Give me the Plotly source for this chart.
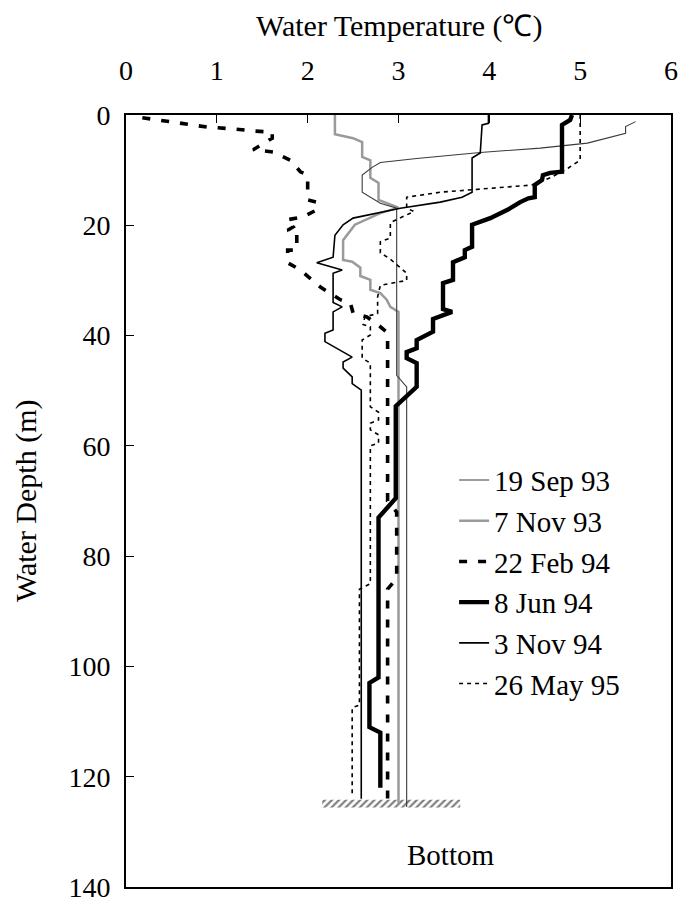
import plotly.graph_objects as go

# ---------------- data ----------------
temp_ticks = [0, 1, 2, 3, 4, 5, 6]
depth_ticks = [0, 20, 40, 60, 80, 100, 120, 140]

series_names = ["19 Sep 93", "7 Nov 93", "22 Feb 94", "8 Jun 94", "3 Nov 94", "26 May 95"]

sep93_T = [5.61, 5.50, 5.50, 5.08, 4.56, 3.90, 3.20, 2.80, 2.71, 2.60, 2.60, 2.80, 2.98, 2.98, 3.09, 3.09]
sep93_D = [1.2, 2.1, 3.3, 5.1, 6.0, 6.8, 7.9, 8.6, 9.5, 10.9, 14.0, 16.0, 16.9, 47.2, 49.3, 125.5]

nov93_T = [2.30, 2.30, 2.50, 2.60, 2.60, 2.69, 2.69, 2.78, 2.78, 3.00, 2.80, 2.52, 2.39, 2.39, 2.49,
           2.58, 2.58, 2.69, 2.69, 2.80, 2.87, 2.91, 3.00, 3.00]
nov93_D = [0.0, 3.5, 4.2, 4.9, 7.6, 8.2, 11.4, 12.3, 15.4, 16.8, 17.8, 19.9, 22.7, 26.3, 26.6,
           27.7, 29.2, 29.9, 31.7, 32.3, 33.5, 34.8, 35.7, 124.8]

feb94_T = [0.18, 0.67, 0.90, 1.17, 1.40, 1.61, 1.61, 1.40, 1.62, 1.81, 1.92, 2.00, 2.00, 2.10, 2.10,
           1.95, 1.77, 1.84, 1.78, 1.88, 1.88, 1.78, 1.78, 1.92, 2.14, 2.36, 2.47, 2.50, 2.65, 2.80,
           2.88, 2.88, 2.98, 2.98, 2.88, 2.88]
feb94_D = [0.5, 1.6, 2.2, 2.5, 2.9, 3.1, 4.2, 6.3, 6.7, 8.2, 10.3, 10.9, 15.4, 15.8, 17.2,
           18.5, 19.0, 20.3, 20.9, 21.4, 24.5, 24.5, 26.8, 28.1, 31.2, 33.5, 34.1, 35.9, 36.6, 38.4,
           39.5, 70.0, 72.0, 84.0, 86.0, 124.0]

jun94_T = [4.91, 4.89, 4.80, 4.80, 4.67, 4.59, 4.58, 4.50, 4.50, 4.43, 4.34, 4.20, 4.01, 3.81, 3.81,
           3.73, 3.73, 3.60, 3.60, 3.49, 3.49, 3.59, 3.38, 3.38, 3.20, 3.20, 3.09, 3.09, 3.20, 3.20,
           2.97, 2.97, 2.78, 2.78, 2.68, 2.68, 2.80, 2.80]
jun94_D = [0.0, 0.9, 1.8, 10.3, 10.5, 10.9, 11.8, 12.7, 14.9, 15.1, 15.8, 17.2, 18.7, 19.9, 23.9,
           24.5, 25.8, 26.7, 29.9, 30.5, 35.2, 35.7, 37.0, 39.3, 40.8, 42.3, 43.0, 44.1, 45.0, 49.3,
           52.8, 69.5, 73.0, 102.0, 103.0, 111.0, 112.0, 122.0]

nov94_T = [3.99, 3.99, 3.92, 3.90, 3.81, 3.81, 3.70, 3.46, 3.02, 2.50, 2.39, 2.30, 2.28, 2.10, 2.38,
           2.28, 2.28, 2.38, 2.28, 2.28, 2.19, 2.19, 2.49, 2.39, 2.39, 2.49, 2.49, 2.59, 2.59]
nov94_D = [0.0, 1.5, 1.8, 6.9, 7.8, 14.0, 14.9, 15.8, 16.9, 18.7, 19.9, 21.8, 25.8, 26.8, 28.1,
           28.7, 34.0, 34.8, 35.7, 39.0, 39.6, 41.1, 43.9, 44.8, 45.9, 47.5, 48.7, 49.9, 124.0]

may95_T = [5.00, 5.00, 4.87, 4.67, 4.47, 3.46, 3.09, 3.09, 3.17, 2.91, 2.91, 2.80, 2.80, 2.90, 3.09,
           3.09, 2.80, 2.77, 2.77, 2.63, 2.61, 2.69, 2.69, 2.60, 2.60, 2.69, 2.69, 2.78, 2.78, 2.69,
           2.69, 2.78, 2.78, 2.69, 2.69, 2.57, 2.57, 2.49, 2.49]
may95_D = [0.0, 8.2, 9.6, 11.4, 12.7, 14.0, 14.9, 16.9, 17.5, 19.5, 22.3, 23.0, 25.0, 26.0, 28.7,
           30.0, 30.9, 33.0, 36.0, 36.6, 38.0, 38.4, 39.9, 40.8, 44.1, 45.0, 52.9, 53.9, 55.3, 55.9,
           57.1, 58.0, 59.5, 60.0, 85.0, 86.0, 107.0, 107.5, 123.3]

bottom_T = [2.16, 3.68, 3.68, 2.16, 2.16]
bottom_D = [124.2, 124.2, 125.6, 125.6, 124.2]
bottom_label = "Bottom"
bottom_label_T = 3.57
bottom_label_D = 134.2

x_title = "Water Temperature (℃)"
y_title = "Water Depth (m)"

# ---------------- styles ----------------
styles = {
    "19 Sep 93": dict(color="#3a3a3a", width=1.1, dash="solid"),
    "7 Nov 93": dict(color="#9a9a9a", width=2.5, dash="solid"),
    "22 Feb 94": dict(color="black", width=3.6, dash="8px,11px"),
    "8 Jun 94": dict(color="black", width=4.4, dash="solid"),
    "3 Nov 94": dict(color="black", width=1.6, dash="solid"),
    "26 May 95": dict(color="black", width=1.6, dash="4px,4px"),
}

data = {
    "19 Sep 93": (sep93_T, sep93_D),
    "7 Nov 93": (nov93_T, nov93_D),
    "22 Feb 94": (feb94_T, feb94_D),
    "8 Jun 94": (jun94_T, jun94_D),
    "3 Nov 94": (nov94_T, nov94_D),
    "26 May 95": (may95_T, may95_D),
}

FONT = "'Liberation Serif', 'Times New Roman', Times, serif"

fig = go.Figure()

fig.add_trace(go.Scatter(
    x=bottom_T, y=bottom_D, mode="lines", fill="toself",
    line=dict(width=0, color="rgba(0,0,0,0)"),
    fillcolor="white",
    fillpattern=dict(shape="/", fgcolor="black", bgcolor="white", size=5, solidity=0.45),
    showlegend=False, hoverinfo="skip",
))

draw_order = ["7 Nov 93", "19 Sep 93", "26 May 95", "3 Nov 94", "22 Feb 94", "8 Jun 94"]
for name in draw_order:
    T, D = data[name]
    fig.add_trace(go.Scatter(
        x=T, y=D, mode="lines", name=name,
        line=styles[name],
        legendrank=series_names.index(name) + 1,
        legendgroup=name,
    ))

fig.add_annotation(
    x=bottom_label_T, y=bottom_label_D, xref="x", yref="y",
    text=bottom_label, showarrow=False,
    font=dict(family=FONT, size=29, color="black"),
)

# axis titles placed explicitly (paper coords relative to plot area)
fig.add_annotation(
    x=0.5, y=1.0, xref="paper", yref="paper", yshift=89,
    text=x_title, showarrow=False, xanchor="center", yanchor="middle",
    font=dict(family=FONT, size=30, color="black"),
)
fig.add_annotation(
    x=0.0, y=0.5, xref="paper", yref="paper", xshift=-100,
    text=y_title, showarrow=False, textangle=-90, xanchor="center", yanchor="middle",
    font=dict(family=FONT, size=30, color="black"),
)

# page body has an 8px margin, so the figure is sized to fit the 695x904 window
fig.update_layout(
    width=687, height=896,
    margin=dict(l=118, r=24, t=107, b=17, autoexpand=False),
    paper_bgcolor="white", plot_bgcolor="white",
    font=dict(family=FONT, size=28, color="black"),
    xaxis=dict(
        side="top", range=[0, 6], tickvals=temp_ticks, automargin=False,
        ticks="inside", ticklen=8, tickwidth=1.3, tickcolor="black",
        showline=True, linecolor="black", linewidth=1.6, mirror=True,
        showgrid=False, zeroline=False, ticklabelstandoff=22,
        tickfont=dict(family=FONT, size=28),
    ),
    yaxis=dict(
        range=[140, 0], tickvals=depth_ticks, automargin=False,
        ticks="inside", ticklen=8, tickwidth=1.3, tickcolor="black",
        showline=True, linecolor="black", linewidth=1.6, mirror=True,
        showgrid=False, zeroline=False, ticklabelstandoff=8,
        tickfont=dict(family=FONT, size=28),
    ),
    legend=dict(
        x=0.602, y=0.56, xanchor="left", yanchor="top",
        bgcolor="rgba(0,0,0,0)", borderwidth=0,
        font=dict(family=FONT, size=29, color="black"),
        tracegroupgap=6, traceorder="normal",
    ),
    showlegend=True,
)

fig.write_html("out.html")
